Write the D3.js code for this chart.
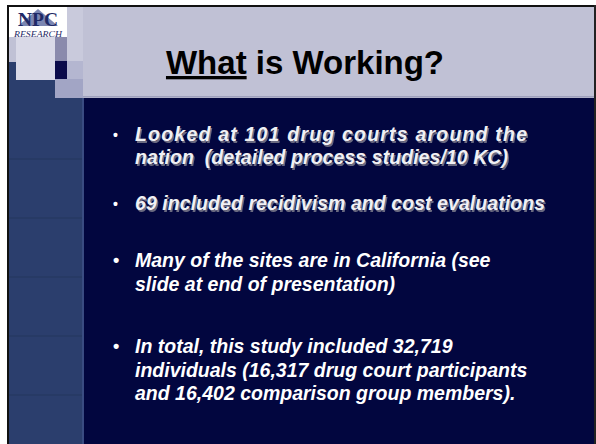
<!DOCTYPE html>
<html>
<head>
<meta charset="utf-8">
<script src="https://cdn.jsdelivr.net/npm/d3@7"></script>
<style>
html,body{margin:0;padding:0;background:#fff;}
svg{display:block;}
</style>
</head>
<body>
<svg id="slide" width="596" height="444"></svg>
<script>
// ---- content ----
const titleParts = ["What", " is Working?"];
const bulletGroups = [
  ["Looked at 101 drug courts around the", "nation  (detailed process studies/10 KC)"],
  ["69 included recidivism and cost evaluations"],
  ["Many of the sites are in California (see", "slide at end of presentation)"],
  ["In total, this study included 32,719", "individuals (16,317 drug court participants", "and 16,402 comparison group members)."]
];
const shadowed = [true, true, false, false];
const logoWord = "NPC";
const logoSub = "RESEARCH";

const svg = d3.select("#slide");
const W = 596, H = 444;

// background
svg.append("rect").attr("x",0).attr("y",0).attr("width",W).attr("height",H).attr("fill","#ffffff");
// main navy
svg.append("rect").attr("x",9).attr("y",7).attr("width",585).attr("height",437).attr("fill","#02063f");
// header band
svg.append("rect").attr("x",9).attr("y",7).attr("width",585).attr("height",91).attr("fill","#c0c1d5");
svg.append("rect").attr("x",83).attr("y",96).attr("width",511).attr("height",1.5).attr("fill","#9ea0bc");
// left column
svg.append("rect").attr("x",9).attr("y",62).attr("width",74).attr("height",382).attr("fill","#2b3e6d");
svg.append("rect").attr("x",82).attr("y",98).attr("width",2).attr("height",346).attr("fill","#3a4c82");
// faint horizontal lines in left column
const colLines = d3.range(5).map(i => 159 + i * 59);
svg.selectAll("line.col").data(colLines).join("line")
  .attr("x1",9).attr("x2",82).attr("y1",d=>d).attr("y2",d=>d)
  .attr("stroke","#24365f").attr("stroke-width",1);
// decorative squares
svg.append("rect").attr("x",67).attr("y",7).attr("width",16).attr("height",91).attr("fill","#c9cadc");
svg.append("rect").attr("x",16).attr("y",37).attr("width",39).attr("height",43).attr("fill","#d9d9e7");
svg.append("rect").attr("x",55).attr("y",37).attr("width",12).attr("height",24).attr("fill","#8a8aac");
svg.append("rect").attr("x",55).attr("y",61).attr("width",12).attr("height",18).attr("fill","#0b0b4a");
svg.append("rect").attr("x",55).attr("y",79).attr("width",28).attr("height",19).attr("fill","#a2a5c5");
svg.append("rect").attr("x",67).attr("y",61).attr("width",16).attr("height",18).attr("fill","#b4b6d0");
// logo box
svg.append("rect").attr("x",9).attr("y",7).attr("width",58).attr("height",30).attr("fill","#ffffff");
svg.append("path").attr("d","M18,26 L38,9 L58,26 Z").attr("fill","#7b86b2");
svg.append("text").attr("x",38).attr("y",26).attr("text-anchor","middle")
  .attr("font-family","Liberation Serif, serif").attr("font-weight","bold")
  .attr("font-size",18).attr("fill","#1f2a66").attr("textLength",40).attr("lengthAdjust","spacingAndGlyphs")
  .text(logoWord);
svg.append("text").attr("x",38).attr("y",36.5).attr("text-anchor","middle")
  .attr("font-family","Liberation Serif, serif").attr("font-style","italic")
  .attr("font-size",7.5).attr("fill","#1f2a66").attr("textLength",48).attr("lengthAdjust","spacingAndGlyphs")
  .text(logoSub);
// border lines
svg.append("rect").attr("x",7).attr("y",5).attr("width",589).attr("height",2).attr("fill","#111");
svg.append("rect").attr("x",7).attr("y",5).attr("width",2).attr("height",439).attr("fill","#111");
svg.append("rect").attr("x",594).attr("y",5).attr("width",2).attr("height",439).attr("fill","#222");

// title
const title = svg.append("text").attr("x",305).attr("y",74).attr("text-anchor","middle")
  .attr("font-family","Liberation Sans, Arial, sans-serif").attr("font-weight","bold")
  .attr("font-size",33).attr("fill","#000");
title.selectAll("tspan").data(titleParts).join("tspan")
  .attr("text-decoration",(d,i)=> i===0 ? "underline" : null)
  .style("white-space","pre").text(d=>d);

// blur filter for shadowed text
const defs = svg.append("defs");
const f = defs.append("filter").attr("id","soft").attr("x","-5%").attr("y","-20%").attr("width","110%").attr("height","140%");
f.append("feGaussianBlur").attr("stdDeviation",0.6);

// bullet lines
const groupStart = [141, 210, 267, 353];
const lineStep = [23, 23, 24, 23.5];
const textX = 135, bulletX = 113;
// stretched widths of the shadowed (first two) bullet lines
const shadowWidths = [[392, 373], [410]];
const rows = [];
bulletGroups.forEach((g, gi) => g.forEach((t, li) => rows.push({t, gi, li, y: groupStart[gi] + li * lineStep[gi]})));
const tl = d => shadowed[d.gi] ? shadowWidths[d.gi][d.li] : null;

const font = "Liberation Sans, Arial, sans-serif";
// shadows
svg.selectAll("text.sh").data(rows.filter(r => shadowed[r.gi])).join("text")
  .attr("class","sh").attr("x",textX+1.5).attr("y",d=>d.y+1.5)
  .attr("font-family",font).attr("font-weight","bold").attr("font-style","italic")
  .attr("font-size",19.5).attr("fill","#6a6a80").attr("filter","url(#soft)")
  .attr("textLength",tl).attr("lengthAdjust","spacing")
  .style("white-space","pre").text(d=>d.t);
svg.selectAll("text.ln").data(rows).join("text")
  .attr("class","ln").attr("x",textX).attr("y",d=>d.y)
  .attr("font-family",font).attr("font-weight","bold").attr("font-style","italic")
  .attr("font-size",19.5).attr("fill",d => shadowed[d.gi] ? "#f0f0f4" : "#ffffff")
  .attr("textLength",tl).attr("lengthAdjust","spacing")
  .style("white-space","pre").text(d=>d.t);
// bullets
svg.selectAll("text.bl").data(rows.filter(r => r.li === 0)).join("text")
  .attr("class","bl").attr("x",bulletX).attr("y",d=>d.y-1)
  .attr("font-family",font).attr("font-weight","bold")
  .attr("font-size",d => shadowed[d.gi] ? 14 : 18).attr("fill","#ffffff").text("•");
</script>
</body>
</html>
